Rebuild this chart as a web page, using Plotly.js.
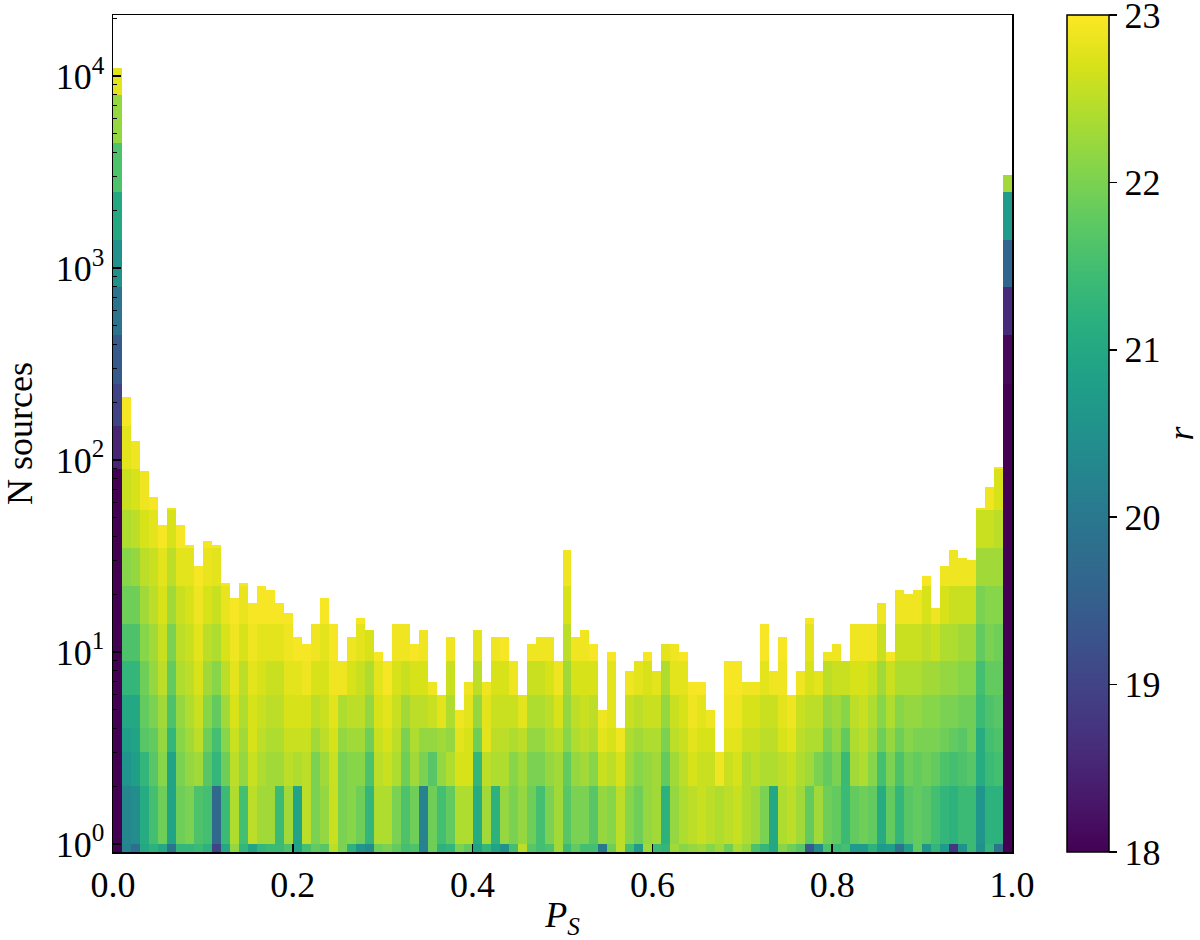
<!DOCTYPE html>
<html>
<head>
<meta charset="utf-8">
<script src="https://cdn.plot.ly/plotly-3.0.1.min.js"></script>
<style>
  body { margin: 0; background: #fff; }
  #chart { width: 1200px; height: 940px; }
</style>
</head>
<body>
<div id="chart"></div>
<script>
// N sources per P_S bin (100 bins of width 0.01)
const counts = [
  11000, 214, 125, 88, 64, 46, 56, 46, 36, 28,
  38, 36, 23, 19, 23, 18, 22, 21, 18, 16,
  12, 11, 14, 19, 14, 9, 12, 15, 13, 10,
  9, 14, 14, 11, 13, 7, 6, 12, 5, 7,
  13, 7, 12, 12, 9, 6, 11, 12, 12, 9,
  34, 12, 13, 11, 5, 10, 4, 8, 9, 10,
  8, 11, 11, 10, 7, 7, 5, 3, 9, 9,
  7, 7, 14, 8, 12, 6, 8, 15, 8, 10,
  11, 9, 14, 14, 14, 18, 10, 21, 20, 21,
  25, 17, 28, 34, 31, 30, 56, 72, 92, 3050
];

// stacking levels (sources are stacked by r, brightest at the bottom)
const bandLo = [0.5, 1, 2, 3, 4, 6, 9, 14, 22, 35, 55, 90, 150, 250, 450, 800, 1400, 2500, 4500, 8000];
const bandHi = [1, 2, 3, 4, 6, 9, 14, 22, 35, 55, 90, 150, 250, 450, 800, 1400, 2500, 4500, 8000, 12000];

// r magnitude of the sources in each level, per bin
const rBand0 = [
  18, 20.2, 19.8, 21.0, 21.2, 21.0, 19.9, 21.3, 21.3, 21.4,
  21.2, 19.0, 21.0, 22.2, 21.3, 20.9, 21.3, 21.4, 21.4, 21.6,
  20.9, 21.5, 21.8, 21.7, 22.5, 22.0, 21.2, 20.6, 20.4, 21.9,
  22.0, 21.8, 21.5, 21.6, 20.2, 21.9, 21.2, 21.3, 22.0, 21.8,
  20.9, 21.3, 20.9, 20.5, 21.5, 22.5, 21.7, 21.5, 21.6, 22.3,
  21.4, 21.8, 21.5, 21.5, 20.0, 21.9, 22.5, 21.5, 20.7, 22.3,
  21.4, 21.3, 22.3, 22.1, 22.2, 22.3, 22.1, 22.3, 21.9, 22.4,
  22.2, 21.6, 21.3, 21.0, 22.1, 21.9, 21.7, 19.4, 20.4, 21.6,
  21.4, 21.5, 20.7, 20.7, 21.2, 20.7, 20.8, 19.9, 20.8, 21.8,
  20.6, 21.3, 20.7, 18.8, 20.5, 21.4, 20.5, 21.3, 19.9, 18
];
const rBand1 = [
  18, 20.3, 20.4, 21.1, 21.5, 21.9, 20.9, 21.9, 22.0, 21.6,
  21.5, 19.7, 21.4, 22.4, 21.5, 22.5, 22.3, 22.3, 21.4, 22.3,
  20.9, 22.5, 22.0, 22.2, 22.6, 22.0, 22.1, 21.9, 21.3, 22.4,
  22.4, 22.0, 21.6, 21.9, 20.2, 21.9, 21.5, 21.8, 22.4, 22.4,
  21.1, 22.3, 21.2, 22.2, 22.0, 22.2, 21.9, 21.5, 22.0, 22.3,
  21.7, 22.0, 22.0, 21.7, 22.2, 22.1, 22.5, 22.1, 21.9, 22.2,
  22.3, 21.2, 22.2, 22.4, 22.5, 22.6, 22.5, 22.4, 22.5, 22.6,
  22.4, 22.3, 22.0, 21.0, 22.4, 22.5, 22.3, 21.8, 22.3, 21.9,
  21.8, 21.4, 21.8, 21.9, 21.8, 21.1, 21.8, 21.3, 21.7, 21.8,
  21.7, 21.5, 21.3, 21.2, 21.4, 21.4, 20.6, 21.2, 21.2, 18
];
const rBand2 = [
  18, 20.6, 20.8, 21.3, 21.7, 22.1, 20.9, 22.0, 22.2, 22.3,
  21.7, 21.3, 21.9, 22.5, 22.2, 22.6, 22.4, 22.3, 22.3, 22.5,
  22.4, 22.5, 22.0, 22.3, 22.6, 22.0, 22.1, 22.1, 21.6, 22.5,
  22.6, 22.4, 21.9, 22.3, 22.0, 21.7, 22.2, 22.4, 22.7, 22.7,
  21.3, 22.5, 22.4, 22.4, 22.1, 22.3, 22.0, 22.0, 22.2, 22.3,
  21.8, 22.2, 22.3, 22.1, 22.6, 22.5, 22.7, 22.3, 22.1, 22.2,
  22.3, 21.8, 22.3, 22.5, 22.7, 22.6, 22.6, 22.9, 22.6, 22.7,
  22.4, 22.5, 22.4, 22.4, 22.5, 22.6, 22.4, 22.3, 22.0, 21.8,
  22.0, 21.4, 22.3, 22.4, 22.1, 21.5, 22.0, 21.6, 21.9, 21.8,
  21.9, 21.8, 21.6, 21.5, 21.6, 21.7, 21.1, 21.4, 21.5, 18
];
const rBand3 = [
  18, 20.8, 20.9, 21.7, 21.8, 22.2, 21.3, 22.1, 22.3, 22.5,
  21.9, 21.5, 22.1, 22.6, 22.3, 22.7, 22.5, 22.4, 22.4, 22.6,
  22.6, 22.6, 22.3, 22.5, 22.7, 22.2, 22.3, 22.3, 21.9, 22.6,
  22.7, 22.5, 22.0, 22.4, 22.2, 22.2, 22.3, 22.2, 22.8, 22.7,
  21.9, 22.8, 22.5, 22.5, 22.4, 22.5, 22.2, 22.2, 22.4, 22.5,
  22.1, 22.4, 22.5, 22.4, 22.8, 22.7, 22.9, 22.4, 22.3, 22.4,
  22.4, 22.0, 22.5, 22.6, 22.8, 22.7, 22.7, null, 22.8, 22.8,
  22.6, 22.6, 22.5, 22.5, 22.7, 22.8, 22.5, 22.4, 22.4, 22.0,
  22.2, 21.8, 22.4, 22.5, 22.3, 21.9, 22.2, 21.9, 22.1, 22.0,
  22.0, 22.0, 21.9, 21.8, 21.7, 21.9, 21.1, 21.5, 21.6, 18
];
const rBand4 = [
  18, 21.0, 21.0, 21.8, 22.0, 22.3, 21.6, 22.2, 22.4, 22.6,
  22.1, 21.8, 22.3, 22.7, 22.4, 22.7, 22.6, 22.5, 22.5, 22.7,
  22.7, 22.7, 22.5, 22.6, 22.8, 22.4, 22.5, 22.5, 22.2, 22.7,
  22.8, 22.6, 22.3, 22.5, 22.5, 22.6, 22.8, 22.4, 22.9, 22.8,
  22.2, 22.8, 22.6, 22.6, 22.6, 22.8, 22.4, 22.4, 22.5, 22.7,
  22.2, 22.5, 22.6, 22.5, 22.9, 22.8, null, 22.6, 22.5, 22.6,
  22.6, 22.2, 22.6, 22.7, 22.9, 22.8, 22.9, null, 22.9, 22.9,
  22.7, 22.7, 22.6, 22.6, 22.8, 22.9, 22.6, 22.5, 22.5, 22.2,
  22.3, 22.1, 22.5, 22.6, 22.4, 22.1, 22.4, 22.1, 22.2, 22.2,
  22.1, 22.1, 22.0, 22.0, 21.9, 21.9, 21.4, 21.6, 21.7, 18
];
const rBand5 = [
  18, 21.3, 21.3, 21.9, 22.2, 22.5, 21.8, 22.4, 22.5, 22.7,
  22.3, 22.1, 22.5, 22.8, 22.5, 22.8, 22.7, 22.6, 22.6, 22.8,
  22.8, 22.9, 22.7, 22.7, 22.9, 22.9, 22.7, 22.6, 22.4, 22.8,
  22.95, 22.7, 22.6, 22.7, 22.7, 22.9, null, 22.6, null, 22.9,
  22.5, 22.9, 22.7, 22.7, 22.9, null, 22.6, 22.6, 22.7, 22.9,
  22.3, 22.7, 22.7, 22.7, null, 22.8, null, 22.9, 22.8, 22.7,
  22.8, 22.4, 22.8, 22.8, 22.95, 22.95, null, null, 22.95, 22.95,
  22.9, 22.9, 22.8, 22.9, 22.9, null, 22.9, 22.7, 22.8, 22.5,
  22.6, 22.6, 22.7, 22.7, 22.6, 22.3, 22.6, 22.4, 22.4, 22.4,
  22.3, 22.3, 22.2, 22.2, 22.1, 22.1, 21.5, 21.8, 21.8, 18
];
const rBand6 = [
  18, 21.6, 21.6, 22.1, 22.3, 22.6, 22.0, 22.5, 22.6, 22.8,
  22.5, 22.4, 22.7, 22.9, 22.7, 22.9, 22.8, 22.8, 22.8, 22.9,
  22.95, 22.95, 22.9, 22.8, 22.95, null, 22.9, 22.8, 22.7, 22.95,
  null, 22.9, 22.9, 22.95, 22.9, null, null, 22.9, null, null,
  22.8, null, 22.9, 22.95, null, null, 22.9, 22.9, 22.9, null,
  22.5, 22.9, 22.9, 22.95, null, 22.95, null, null, null, 22.95,
  null, 22.8, 22.9, 22.95, null, null, null, null, null, null,
  null, null, 22.95, null, 22.95, null, null, 22.8, null, 22.9,
  22.9, null, 22.9, 22.9, 22.9, 22.6, 22.95, 22.6, 22.6, 22.6,
  22.5, 22.6, 22.4, 22.4, 22.3, 22.3, 21.8, 22.0, 21.9, 18
];
const rBand7 = [
  18, 21.9, 21.9, 22.3, 22.5, 22.7, 22.3, 22.6, 22.7, 22.9,
  22.7, 22.6, 22.85, 22.95, 22.85, 22.95, 22.95, 22.95, 22.95, 22.95,
  null, null, null, 22.95, null, null, null, 22.95, null, null,
  null, null, null, null, null, null, null, null, null, null,
  null, null, null, null, null, null, null, null, null, null,
  22.7, null, null, null, null, null, null, null, null, null,
  null, null, null, null, null, null, null, null, null, null,
  null, null, null, null, null, null, null, 22.95, null, null,
  null, null, null, null, null, 22.9, null, 22.9, 22.9, 22.9,
  22.7, 22.9, 22.7, 22.6, 22.6, 22.6, 22.0, 22.1, 22.1, 18
];
// sparse upper levels: {bin: r}
const rBand8 = {0: 18, 1: 22.1, 2: 22.2, 3: 22.5, 4: 22.6, 5: 22.8, 6: 22.5, 7: 22.8, 8: 22.8, 9: 22.95,
  10: 22.85, 11: 22.8, 12: 22.95, 14: 22.95, 50: 22.9, 90: 22.95, 92: 22.9, 93: 22.9, 94: 22.9, 95: 22.9,
  96: 22.3, 97: 22.3, 98: 22.3, 99: 18};
const rBand9 = {0: 18, 1: 22.4, 2: 22.5, 3: 22.7, 4: 22.8, 5: 22.95, 6: 22.7, 7: 22.95, 8: 22.95,
  10: 22.95, 11: 22.95, 96: 22.6, 97: 22.6, 98: 22.5, 99: 18};
const rBand10 = {0: 18, 1: 22.6, 2: 22.7, 3: 22.9, 4: 22.95, 6: 22.9, 96: 22.9, 97: 22.9, 98: 22.7, 99: 18};
const rBand11 = {0: 18.5, 1: 22.8, 2: 22.9, 98: 22.95, 99: 18};
const rBand12 = {0: 19.0, 1: 22.95, 99: 18};
const rBand13 = {0: 19.4, 99: 18.1};
const rBand14 = {0: 19.9, 99: 18.6};
const rBand15 = {0: 20.5, 99: 19.6};
const rBand16 = {0: 21.0, 99: 20.7};
const rBand17 = {0: 21.6, 99: 22.3};
const rBand18 = {0: 22.2};
const rBand19 = {0: 22.8};

const rBands = [rBand0, rBand1, rBand2, rBand3, rBand4, rBand5, rBand6, rBand7, rBand8, rBand9,
  rBand10, rBand11, rBand12, rBand13, rBand14, rBand15, rBand16, rBand17, rBand18, rBand19];

const binWidth = 0.01;
const font = '"Liberation Serif", "Times New Roman", serif';

const traces = rBands.map((band, b) => {
  const x = [], y = [], base = [], color = [];
  counts.forEach((n, i) => {
    const r = band[i];
    if (r === null || r === undefined) return;
    if (b > 0 && n <= bandLo[b]) return;
    const top = Math.min(bandHi[b], n);
    x.push((i + 0.5) * binWidth);
    base.push(bandLo[b]);
    y.push(top - bandLo[b]);
    color.push(r);
  });
  return {
    type: 'bar',
    x: x,
    y: y,
    base: base,
    width: binWidth,
    marker: { color: color, coloraxis: 'coloraxis', line: { width: 0 } },
    hoverinfo: 'skip',
    showlegend: false
  };
});

// minor log ticks
const minorVals = [];
[1, 10, 100, 1000, 10000].forEach(d => {
  for (let k = 2; k <= 9; k++) minorVals.push(k * d);
});

const layout = {
  width: 1200,
  height: 940,
  margin: { l: 113, r: 188, t: 15, b: 88 },
  paper_bgcolor: '#fff',
  plot_bgcolor: '#fff',
  barmode: 'overlay',
  bargap: 0,
  hovermode: false,
  font: { family: font, color: '#000', size: 36 },
  xaxis: {
    range: [0, 1],
    tickvals: [0, 0.2, 0.4, 0.6, 0.8, 1.0],
    ticktext: ['0.0', '0.2', '0.4', '0.6', '0.8', '1.0'],
    ticks: 'inside',
    ticklen: 8,
    tickwidth: 1.5,
    tickcolor: '#000',
    showline: true,
    linecolor: '#000',
    linewidth: 1.5,
    mirror: true,
    showgrid: false,
    zeroline: false,
    tickfont: { family: font, size: 36, color: '#000' },
    title: { text: '<i>P</i><sub><i>S</i></sub>', font: { family: font, size: 36, color: '#000' }, standoff: 8 }
  },
  yaxis: {
    type: 'log',
    range: [-0.042, 4.318],
    tickvals: [1, 10, 100, 1000, 10000],
    ticktext: ['10<sup>0</sup>', '10<sup>1</sup>', '10<sup>2</sup>', '10<sup>3</sup>', '10<sup>4</sup>'],
    ticks: 'inside',
    ticklen: 8,
    tickwidth: 1.5,
    tickcolor: '#000',
    minor: { tickvals: minorVals, ticks: 'inside', ticklen: 4, tickwidth: 1.2, tickcolor: '#000', showgrid: false },
    showline: true,
    linecolor: '#000',
    linewidth: 1.5,
    mirror: true,
    showgrid: false,
    zeroline: false,
    tickfont: { family: font, size: 36, color: '#000' },
    title: { text: 'N sources', font: { family: font, size: 36, color: '#000' }, standoff: 12 }
  },
  coloraxis: {
    cmin: 18,
    cmax: 23,
    colorscale: 'Viridis',
    colorbar: {
      x: 1.061,
      xanchor: 'left',
      y: 0.5,
      yanchor: 'middle',
      len: 1,
      lenmode: 'fraction',
      thickness: 42,
      thicknessmode: 'pixels',
      xpad: 0,
      ypad: 0,
      outlinewidth: 1.5,
      outlinecolor: '#000',
      tickvals: [18, 19, 20, 21, 22, 23],
      ticktext: ['18', '19', '20', '21', '22', '23'],
      ticklabeloverflow: 'allow',
      ticks: 'outside',
      ticklen: 8,
      tickwidth: 1.5,
      tickcolor: '#000',
      tickfont: { family: font, size: 36, color: '#000' }
    }
  },
  annotations: [{
    text: '<i>r</i>',
    xref: 'paper',
    yref: 'paper',
    x: 1.187,
    y: 0.5,
    xanchor: 'center',
    yanchor: 'middle',
    textangle: -90,
    showarrow: false,
    font: { family: font, size: 36, color: '#000' }
  }]
};

Plotly.newPlot('chart', traces, layout, { displayModeBar: false, staticPlot: true });
</script>
</body>
</html>
